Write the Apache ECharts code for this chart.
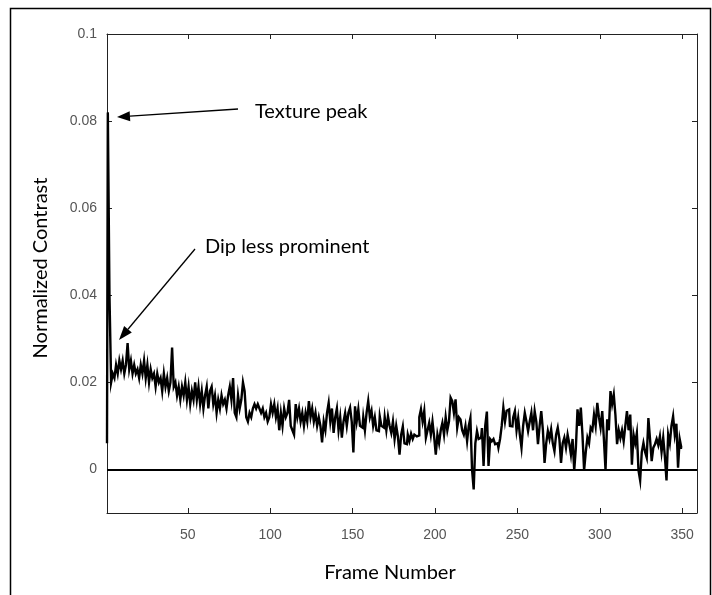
<!DOCTYPE html>
<html>
<head>
<meta charset="utf-8">
<script src="https://cdn.jsdelivr.net/npm/echarts@6/dist/echarts.min.js"></script>
<style>
html,body{margin:0;padding:0;background:#fff;}
#chart{width:712px;height:595px;}
</style>
</head>
<body>
<div id="chart"></div>
<script>
// Normalized contrast per frame (frames 1..350)
const contrast = [
0.006, 0.082, 0.040, 0.020, 0.022, 0.021, 0.024, 0.022, 0.025, 0.023,
0.025, 0.022, 0.024, 0.029, 0.023, 0.025, 0.022, 0.024, 0.022, 0.023,
0.021, 0.024, 0.022, 0.025, 0.021, 0.024, 0.020, 0.023, 0.021, 0.022,
0.019, 0.022, 0.020, 0.021, 0.018, 0.022, 0.019, 0.021, 0.018, 0.020,
0.028, 0.019, 0.020, 0.017, 0.019, 0.016, 0.019, 0.017, 0.020, 0.016,
0.019, 0.015, 0.018, 0.016, 0.020, 0.016, 0.019, 0.015, 0.018, 0.014,
0.017, 0.019, 0.014, 0.018, 0.019, 0.015, 0.017, 0.013, 0.016, 0.014,
0.017, 0.015, 0.016, 0.014, 0.017, 0.019, 0.016, 0.021, 0.013, 0.012,
0.017, 0.014, 0.016, 0.020, 0.018, 0.012, 0.011, 0.013, 0.012, 0.014,
0.015, 0.014, 0.015, 0.014, 0.013, 0.014, 0.012, 0.013, 0.011, 0.012,
0.015, 0.013, 0.015, 0.012, 0.014, 0.009, 0.013, 0.010, 0.014, 0.012,
0.013, 0.016, 0.010, 0.009, 0.008, 0.015, 0.012, 0.014, 0.011, 0.013,
0.010, 0.013, 0.011, 0.0157, 0.012, 0.014, 0.011, 0.013, 0.010, 0.012,
0.010, 0.0062, 0.011, 0.009, 0.013, 0.0153, 0.011, 0.014, 0.0084, 0.012,
0.014, 0.009, 0.012, 0.0073, 0.011, 0.013, 0.010, 0.013, 0.0142, 0.011,
0.0039, 0.0145, 0.011, 0.0138, 0.010, 0.0096, 0.012, 0.009, 0.013, 0.0157,
0.012, 0.0135, 0.010, 0.012, 0.009, 0.0088, 0.0122, 0.010, 0.0096, 0.012,
0.009, 0.0122, 0.010, 0.0084, 0.011, 0.007, 0.010, 0.0076, 0.0034, 0.008,
0.0099, 0.006, 0.0058, 0.008, 0.0065, 0.0082, 0.007, 0.008, 0.0076, 0.0078,
0.012, 0.0138, 0.011, 0.0134, 0.0073, 0.009, 0.0107, 0.008, 0.011, 0.0075,
0.0034, 0.008, 0.006, 0.009, 0.0107, 0.008, 0.012, 0.009, 0.011, 0.0165,
0.0157, 0.013, 0.0161, 0.0096, 0.012, 0.0115, 0.009, 0.008, 0.010, 0.0065,
0.010, 0.0118, 0.000, -0.0046, 0.006, 0.0088, 0.007, 0.0073, 0.0095, 0.0008,
0.010, 0.0133, 0.0008, 0.007, 0.0065, 0.007, 0.0058, 0.006, 0.005, 0.007,
0.010, 0.0142, 0.011, 0.0135, 0.0138, 0.010, 0.0099, 0.012, 0.0134, 0.009,
0.0118, 0.008, 0.005, 0.010, 0.013, 0.011, 0.0088, 0.011, 0.013, 0.009,
0.0134, 0.011, 0.0058, 0.010, 0.0134, 0.009, 0.0015, 0.006, 0.0088, 0.007,
0.0092, 0.006, 0.0042, 0.008, 0.0096, 0.007, 0.0015, 0.006, 0.0073, 0.005,
0.008, 0.006, 0.0034, 0.007, -0.0002, 0.005, 0.0138, 0.010, 0.0142, 0.008,
-0.0002, 0.004, 0.0073, 0.006, 0.0096, 0.009, 0.0126, 0.010, 0.0153, 0.012,
0.0096, 0.0134, 0.007, -0.0002, 0.0115, 0.009, 0.018, 0.0150, 0.0172, 0.0125,
0.0058, 0.009, 0.0072, 0.009, 0.0065, 0.010, 0.0134, 0.009, 0.0126, 0.0011,
0.008, 0.006, 0.0084, -0.0002, -0.0025, 0.004, 0.0061, 0.004, 0.0027, 0.0118,
0.007, 0.0019, 0.005, 0.0058, 0.007, 0.0056, 0.0076, 0.004, 0.0073, 0.003,
-0.0025, 0.008, 0.006, 0.010, 0.0122, 0.008, 0.0105, 0.0004, 0.007, 0.005
];
const xTicks = [50, 100, 150, 200, 250, 300, 350];
const yTicks = [0, 0.02, 0.04, 0.06, 0.08, 0.1];
const xName = 'Frame Number';
const yName = 'Normalized Contrast';
const annotations = ['Texture peak', 'Dip less prominent'];

const seriesData = contrast.map((v, i) => [i + 1, v]);

const chart = echarts.init(document.getElementById('chart'), null, {renderer: 'canvas'});

function arrow(x1, y1, x2, y2, headLen, headHalf) {
  const dx = x2 - x1, dy = y2 - y1;
  const len = Math.sqrt(dx * dx + dy * dy);
  const ux = dx / len, uy = dy / len;
  const bx = x2 - ux * headLen, by = y2 - uy * headLen;
  const nx = -uy, ny = ux;
  return [
    {type: 'line', shape: {x1: x1, y1: y1, x2: bx, y2: by}, style: {stroke: '#000', lineWidth: 1.3}, z: 100},
    {type: 'polygon', shape: {points: [[x2, y2], [bx + nx * headHalf, by + ny * headHalf], [bx - nx * headHalf, by - ny * headHalf]]}, style: {fill: '#000'}, z: 100}
  ];
}

const tickFont = {fontFamily: 'Liberation Sans Narrow, Liberation Sans, Arial, sans-serif', fontSize: 14, color: '#555'};
const axisLineStyle = {color: '#222', width: 1};

const option = {
  animation: false,
  backgroundColor: '#fff',
  grid: {left: 107, right: 15, top: 34, bottom: 82, containLabel: false, outerBoundsMode: 'none'},
  xAxis: [
    {
      type: 'value', min: 1, max: 359, position: 'bottom',
      axisLine: {show: true, onZero: false, lineStyle: axisLineStyle},
      axisTick: {show: true, inside: true, length: 5, lineStyle: axisLineStyle, customValues: xTicks},
      axisLabel: {show: true, customValues: xTicks, margin: 15, ...tickFont},
      splitLine: {show: false}
    },
    {
      type: 'value', min: 1, max: 359, position: 'top',
      axisLine: {show: true, onZero: false, lineStyle: axisLineStyle},
      axisTick: {show: true, inside: true, length: 5, lineStyle: axisLineStyle, customValues: xTicks},
      axisLabel: {show: false},
      splitLine: {show: false}
    }
  ],
  yAxis: [
    {
      type: 'value', min: -0.01, max: 0.1, position: 'left',
      axisLine: {show: true, onZero: false, lineStyle: axisLineStyle},
      axisTick: {show: true, inside: true, length: 5, lineStyle: axisLineStyle, customValues: yTicks},
      axisLabel: {show: true, customValues: yTicks, margin: 10, formatter: v => String(+Number(v).toFixed(2)), ...tickFont},
      splitLine: {show: false}
    },
    {
      type: 'value', min: -0.01, max: 0.1, position: 'right',
      axisLine: {show: true, onZero: false, lineStyle: axisLineStyle},
      axisTick: {show: true, inside: true, length: 5, lineStyle: axisLineStyle, customValues: yTicks},
      axisLabel: {show: false},
      splitLine: {show: false}
    }
  ],
  series: [
    {
      type: 'line',
      xAxisIndex: 0, yAxisIndex: 0,
      data: seriesData,
      step: 'middle',
      showSymbol: false,
      symbol: 'none',
      lineStyle: {color: '#000', width: 2.4, join: 'miter'},
      markLine: {
        silent: true,
        symbol: ['none', 'none'],
        label: {show: false},
        lineStyle: {color: '#000', width: 2, type: 'solid'},
        data: [{yAxis: 0}]
      }
    }
  ],
  graphic: [
    {type: 'rect', shape: {x: 10.5, y: 8.5, width: 700, height: 700}, style: {fill: 'none', stroke: '#000', lineWidth: 1.5}, z: 50},
    {type: 'text', x: 390, y: 573, style: {text: xName, font: '20px Lato, "Open Sans", sans-serif', fill: '#000', textAlign: 'center', textVerticalAlign: 'middle'}, z: 100},
    {type: 'text', x: 41, y: 268, rotation: Math.PI / 2, style: {text: yName, font: '20px Lato, "Open Sans", sans-serif', fill: '#000', textAlign: 'center', textVerticalAlign: 'middle'}, z: 100},
    {type: 'text', x: 255, y: 112, style: {text: annotations[0], font: '20px Lato, "Open Sans", sans-serif', fill: '#000', textAlign: 'left', textVerticalAlign: 'middle'}, z: 100},
    {type: 'text', x: 205, y: 247, style: {text: annotations[1], font: '20px Lato, "Open Sans", sans-serif', fill: '#000', textAlign: 'left', textVerticalAlign: 'middle'}, z: 100},
    ...arrow(238, 109, 117, 117, 13, 5),
    ...arrow(195, 249, 119, 340, 14, 5)
  ]
};
chart.setOption(option);
</script>
</body>
</html>
